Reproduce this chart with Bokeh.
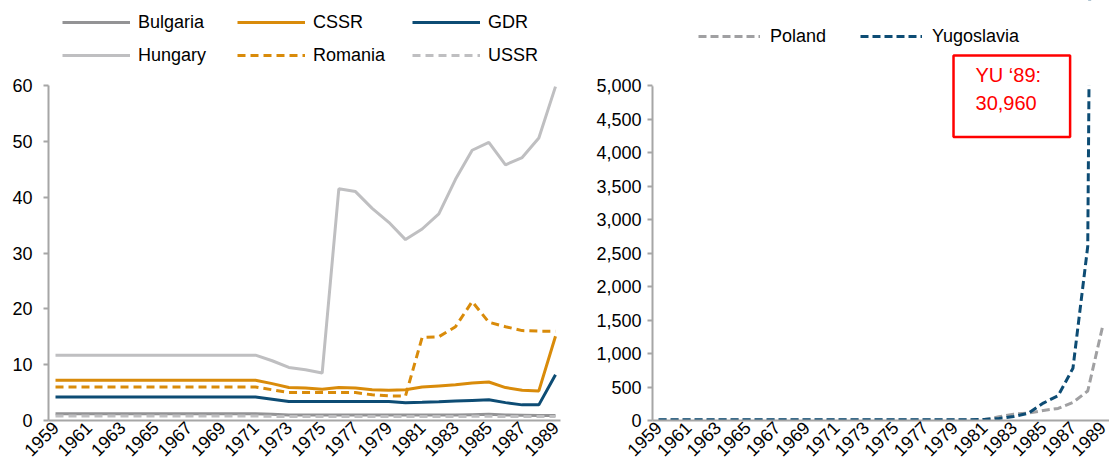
from bokeh.plotting import figure
from bokeh.models import Legend, LegendItem, FixedTicker, NumeralTickFormatter, Range1d, Label, BoxAnnotation
from bokeh.layouts import row
from bokeh.embed import file_html
from bokeh.resources import INLINE
from math import pi

years = list(range(1959, 1990))

bulgaria = [1.2] * 13 + [1.1, 1.0, 1.0, 1.0, 1.0, 1.0, 1.0, 1.0, 1.0, 1.0, 1.0, 1.0, 1.05, 1.1, 1.0, 0.95, 0.9, 0.9]
cssr = [7.2] * 13 + [6.6, 5.9, 5.8, 5.6, 5.9, 5.8, 5.5, 5.4, 5.5, 6.0, 6.2, 6.4, 6.7, 6.9, 5.9, 5.4, 5.3, 15.1]
gdr = [4.2] * 13 + [3.8, 3.4, 3.4, 3.4, 3.4, 3.4, 3.4, 3.4, 3.2, 3.25, 3.35, 3.5, 3.6, 3.7, 3.2, 2.8, 2.8, 8.2]
hungary = [11.7] * 13 + [10.7, 9.5, 9.1, 8.5, 41.5, 41.0, 38.0, 35.5, 32.4, 34.3, 37.0, 43.2, 48.4, 49.8, 45.8, 47.1, 50.6, 59.8]
romania = [6.0] * 13 + [5.5, 5.0, 5.0, 5.0, 5.0, 5.0, 4.6, 4.4, 4.4, 14.9, 15.0, 16.8, 21.3, 17.6, 16.8, 16.1, 16.0, 16.0]
ussr = [0.8] * 13 + [0.75, 0.7, 0.7, 0.7, 0.7, 0.7, 0.7, 0.7, 0.7, 0.7, 0.7, 0.7, 0.75, 0.75, 0.7, 0.7, 0.7, 0.7]

poland = [8] * 22 + [15, 55, 95, 110, 150, 180, 270, 440, 1400]
yugoslavia = [10] * 22 + [15, 30, 60, 110, 260, 370, 780, 2600, 30960]

left_ticks = [0, 10, 20, 30, 40, 50, 60]
right_ticks = [0, 500, 1000, 1500, 2000, 2500, 3000, 3500, 4000, 4500, 5000]
year_ticks = list(range(1959, 1990, 2))
note_text = "YU \u201889:\n30,960"

FONT = "Liberation Sans"
FS = "18px"
ORANGE = "#D98B0A"
BLUE = "#0D4C74"
LGRAY = "#BFBFC1"
DGRAY = "#939395"
AXIS = "#A6A6A6"

H = 469
FRAME_BOTTOM = 420
TOP_PX = 85


def style(p, yticks, standoff):
    p.outline_line_color = None
    p.xgrid.visible = False
    p.ygrid.visible = False
    p.xaxis.ticker = FixedTicker(ticks=year_ticks)
    p.yaxis.ticker = FixedTicker(ticks=yticks)
    p.yaxis.bounds = (yticks[0], yticks[-1])
    p.xaxis.major_label_orientation = pi / 4
    p.xaxis.major_tick_out = 0
    p.xaxis.major_tick_in = 0
    p.xaxis.minor_tick_line_color = None
    p.yaxis.minor_tick_line_color = None
    p.yaxis.major_tick_out = 5
    p.yaxis.major_tick_in = 0
    p.xaxis.major_label_standoff = 4
    p.yaxis.major_label_standoff = standoff
    for ax in (p.xaxis[0], p.yaxis[0]):
        ax.axis_line_color = AXIS
        ax.axis_line_width = 2
        ax.major_tick_line_color = AXIS
        ax.major_tick_line_width = 2
        ax.major_label_text_font = FONT
        ax.major_label_text_font_size = FS
        ax.major_label_text_color = "#000000"


def top_of(ymax):
    # extend the range above the last tick so the frame reaches the page top
    return ymax * FRAME_BOTTOM / (FRAME_BOTTOM - TOP_PX)


p1 = figure(width=566, height=H, x_range=Range1d(1958.58, 1989.3), y_range=Range1d(0, top_of(60)),
            output_backend="svg", toolbar_location=None,
            min_border_left=48, min_border_right=6, min_border_top=0,
            min_border_bottom=H - FRAME_BOTTOM)
style(p1, left_ticks, 11)

r_bg = p1.line(years, bulgaria, line_color=DGRAY, line_width=3)
r_ussr = p1.line(years, ussr, line_color=LGRAY, line_width=3, line_dash="8 5")
r_gdr = p1.line(years, gdr, line_color=BLUE, line_width=3)
r_ro = p1.line(years, romania, line_color=ORANGE, line_width=3, line_dash="8 5")
r_cs = p1.line(years, cssr, line_color=ORANGE, line_width=3)
r_hu = p1.line(years, hungary, line_color=LGRAY, line_width=3)

leg1 = Legend(items=[LegendItem(label="Bulgaria", renderers=[r_bg]),
                     LegendItem(label="CSSR", renderers=[r_cs]),
                     LegendItem(label="GDR", renderers=[r_gdr]),
                     LegendItem(label="Hungary", renderers=[r_hu]),
                     LegendItem(label="Romania", renderers=[r_ro]),
                     LegendItem(label="USSR", renderers=[r_ussr])],
              location=(14, FRAME_BOTTOM - 10 - 57), orientation="horizontal", ncols=3,
              glyph_width=68, glyph_height=24, label_height=24, label_width=90,
              label_standoff=8, spacing=9, padding=0, margin=0,
              border_line_color=None, background_fill_alpha=0,
              label_text_font=FONT, label_text_font_size=FS, label_text_color="#000000")
p1.add_layout(leg1)

p2 = figure(width=543, height=H, x_range=Range1d(1958.59, 1989.47), y_range=Range1d(0, top_of(5000)),
            output_backend="svg", toolbar_location=None,
            min_border_left=86, min_border_right=0, min_border_top=0,
            min_border_bottom=H - FRAME_BOTTOM)
style(p2, right_ticks, 6)
p2.yaxis.formatter = NumeralTickFormatter(format="0,0")

r_pl = p2.line(years, poland, line_color="#A0A0A2", line_width=3, line_dash="8 4")
r_yu = p2.line(years, yugoslavia, line_color=BLUE, line_width=3, line_dash="8 4")

# hide the part of the lines above the last tick (plot area ends at 5,000)
p2.add_layout(BoxAnnotation(bottom=right_ticks[-1], fill_color="#FFFFFF", fill_alpha=1.0,
                            line_color="#FFFFFF", line_width=3))

leg2 = Legend(items=[LegendItem(label="Poland", renderers=[r_pl]),
                     LegendItem(label="Yugoslavia", renderers=[r_yu])],
              location=(46, FRAME_BOTTOM - 24 - 24), orientation="horizontal",
              glyph_width=62, glyph_height=24, label_height=24, label_width=80,
              label_standoff=10, spacing=10, padding=0, margin=0,
              border_line_color=None, background_fill_alpha=0,
              label_text_font=FONT, label_text_font_size=FS, label_text_color="#000000")
p2.add_layout(leg2)

note = Label(x=1978.93, y=5448, anchor="top_left", text=note_text,
             text_color="#FF0000", text_font=FONT, text_font_size="20px", text_line_height=1.25,
             border_line_color="#FF0000", border_line_width=2.5,
             background_fill_color="#FFFFFF", padding=(22, 29, 9, 23))
p2.add_layout(note)

layout = row(p1, p2, spacing=0)
open("out.html", "w").write(file_html(layout, INLINE))
